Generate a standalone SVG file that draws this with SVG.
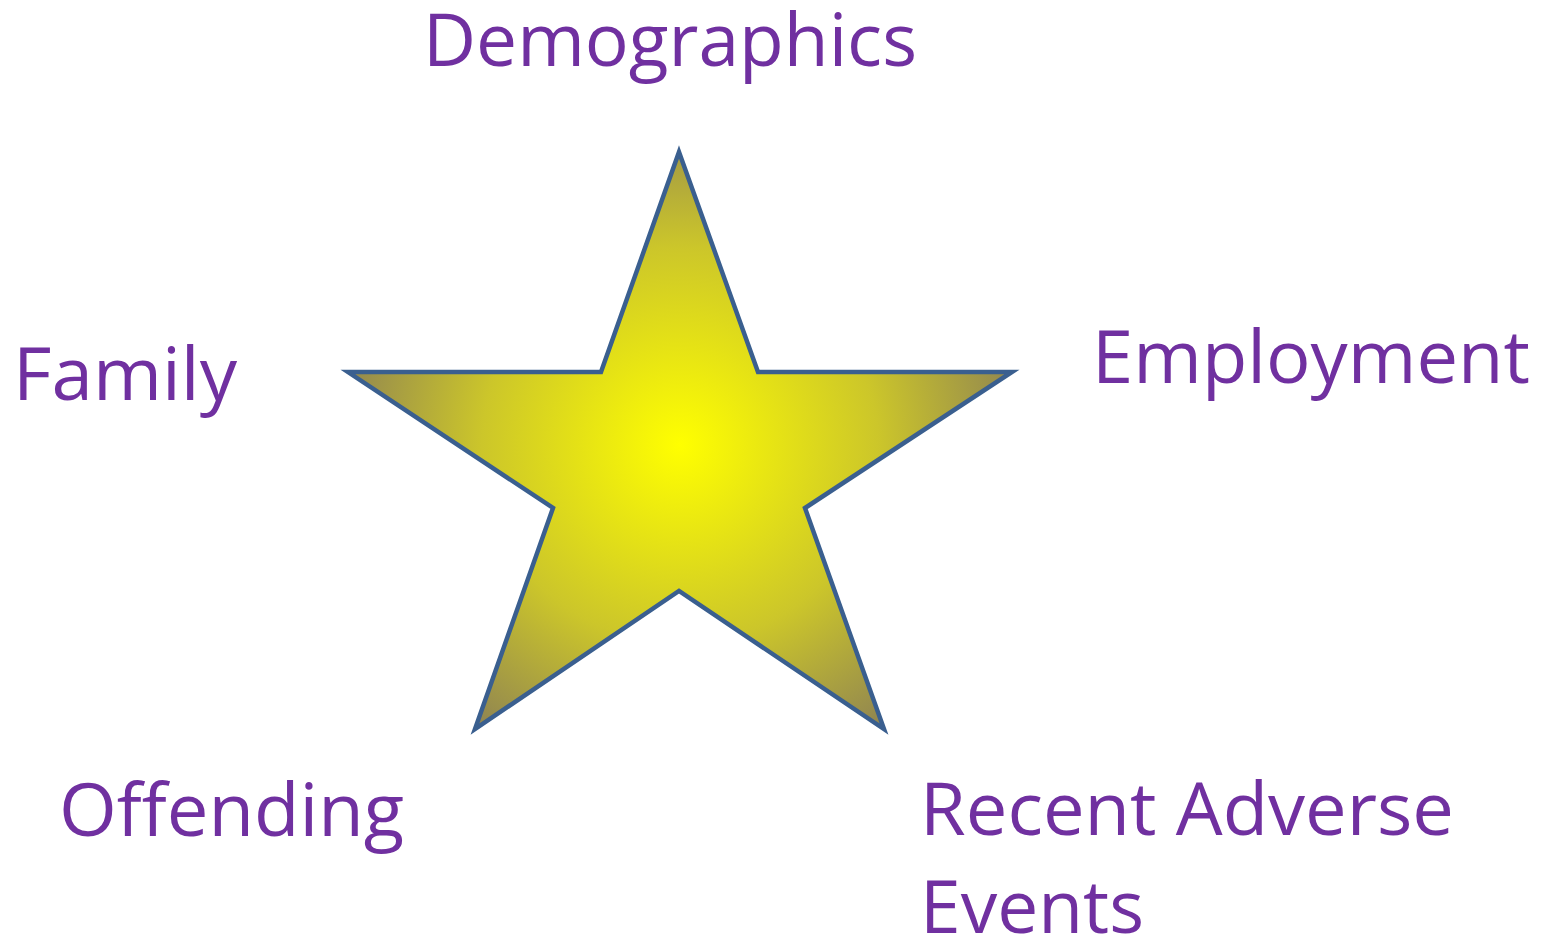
<svg xmlns="http://www.w3.org/2000/svg" width="1552" height="940" viewBox="0 0 1552 940">
<style>
.lbl{font-family:"Open Sans","Liberation Sans",sans-serif;font-size:73px;fill:#7030A0;}
</style>
<defs>
<radialGradient id="g" gradientUnits="userSpaceOnUse" cx="680" cy="445" r="360">
<stop offset="0" stop-color="#FFFF00"/>
<stop offset="0.55" stop-color="#CCC62A"/>
<stop offset="1" stop-color="#8A7E55"/>
</radialGradient>
</defs>
<rect width="1552" height="940" fill="#FFFFFF"/>
<g id="star">
<polygon points="679,152 758,372 1012,372 805,508 884,729 679,591 475,729 553,508 348,372 601,372" fill="url(#g)" stroke="#3A5F8F" stroke-width="4.5" stroke-linejoin="miter"/>
</g>
<g id="demographics"><text class="lbl" x="423" y="66" textLength="494" lengthAdjust="spacingAndGlyphs">Demographics</text></g>
<g id="family"><text class="lbl" x="13" y="400" textLength="224" lengthAdjust="spacingAndGlyphs">Family</text></g>
<g id="employment"><text class="lbl" x="1092" y="383" textLength="438" lengthAdjust="spacingAndGlyphs">Employment</text></g>
<g id="offending"><text class="lbl" x="59" y="836" textLength="345" lengthAdjust="spacingAndGlyphs">Offending</text></g>
<g id="recent-adverse-events"><text class="lbl" x="920" y="835" textLength="534" lengthAdjust="spacingAndGlyphs">Recent Adverse</text><text class="lbl" x="920" y="933" textLength="224" lengthAdjust="spacingAndGlyphs">Events</text></g>
</svg>
